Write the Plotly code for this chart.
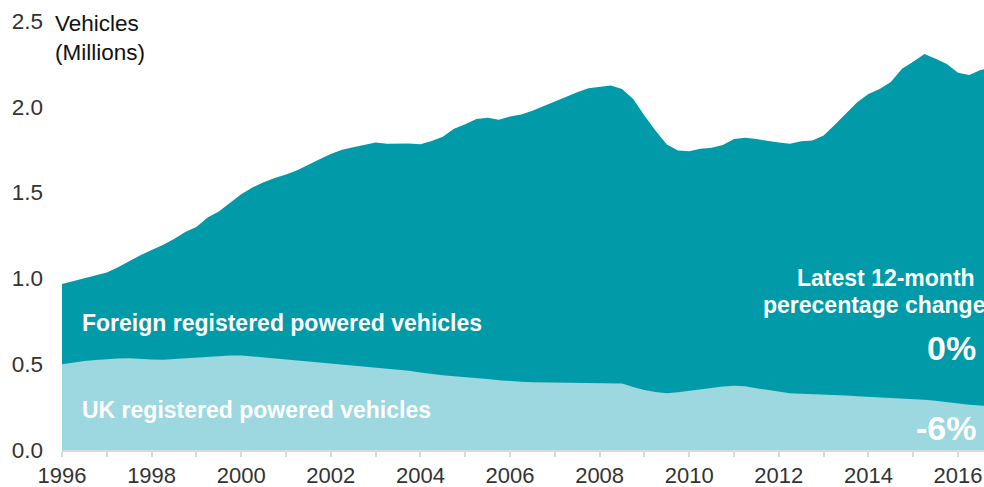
import plotly.graph_objects as go

# Quarterly time axis (decimal years)
years = [1996 + 0.25 * i for i in range(84)]  # 1996.00 .. 2016.75

# Total powered vehicles (millions) - top of the dark area
total = [
    0.967, 0.983, 0.999, 1.015, 1.035, 1.065, 1.100, 1.135,   # 1996-1997
    1.165, 1.195, 1.230, 1.270, 1.300, 1.355, 1.390, 1.440,   # 1998-1999
    1.490, 1.530, 1.560, 1.585, 1.605, 1.630, 1.665, 1.695,   # 2000-2001
    1.725, 1.750, 1.765, 1.780, 1.792, 1.785, 1.787, 1.786,   # 2002-2003
    1.782, 1.800, 1.826, 1.872, 1.898, 1.929, 1.936, 1.925,   # 2004-2005
    1.944, 1.955, 1.977, 2.005, 2.033, 2.060, 2.085, 2.108,   # 2006-2007
    2.115, 2.124, 2.104, 2.046, 1.950, 1.860, 1.780, 1.745,   # 2008-2009
    1.741, 1.756, 1.762, 1.777, 1.813, 1.820, 1.812, 1.801,   # 2010-2011
    1.792, 1.785, 1.799, 1.803, 1.833, 1.895, 1.962, 2.027,   # 2012-2013
    2.075, 2.104, 2.145, 2.222, 2.262, 2.307, 2.280, 2.249,   # 2014-2015
    2.198, 2.186, 2.215, 2.225,                               # 2016
]

# UK registered powered vehicles (millions)
uk = [
    0.500, 0.510, 0.518, 0.524, 0.529, 0.533, 0.534, 0.533,
    0.528, 0.526, 0.530, 0.536, 0.540, 0.546, 0.548, 0.550,
    0.551, 0.545, 0.540, 0.535, 0.527, 0.521, 0.515, 0.510,
    0.505, 0.500, 0.492, 0.485, 0.481, 0.476, 0.469, 0.462,
    0.452, 0.442, 0.435, 0.430, 0.426, 0.421, 0.414, 0.407,
    0.401, 0.397, 0.395, 0.394, 0.393, 0.392, 0.390, 0.389,
    0.388, 0.388, 0.388, 0.367, 0.350, 0.338, 0.331, 0.337,
    0.346, 0.355, 0.364, 0.370, 0.374, 0.372, 0.360, 0.349,
    0.338, 0.330, 0.328, 0.326, 0.324, 0.321, 0.317, 0.313,
    0.310, 0.307, 0.304, 0.301, 0.298, 0.293, 0.287, 0.278,
    0.268, 0.263, 0.259, 0.257,
]

x_ticks = [1996, 1998, 2000, 2002, 2004, 2006, 2008, 2010, 2012, 2014, 2016]
y_ticks = [0.0, 0.5, 1.0, 1.5, 2.0, 2.5]
y_tick_text = ["0.0", "0.5", "1.0", "1.5", "2.0", "2.5"]

DARK = "#009AA8"
LIGHT = "#9DD7DF"
TXT = "#333333"
FONT = "Arial, Liberation Sans, sans-serif"

W, H = 984, 487
ML, MR, MT, MB = 62, 0, 21, 37
PW, PH = W - ML - MR, H - MT - MB


def px(xp):
    return (xp - ML) / PW


def py(yp):
    return (H - MB - yp) / PH


fig = go.Figure()
fig.add_trace(go.Scatter(x=years, y=total, mode="lines", fill="tozeroy",
                         fillcolor=DARK, line=dict(width=0, color=DARK),
                         hoverinfo="skip", name="Foreign registered powered vehicles"))
fig.add_trace(go.Scatter(x=years, y=uk, mode="lines", fill="tozeroy",
                         fillcolor=LIGHT, line=dict(width=0, color=LIGHT),
                         hoverinfo="skip", name="UK registered powered vehicles"))

ann = []
ann.append(dict(text="Vehicles<br>(Millions)", x=px(54), y=py(10), xanchor="left", yanchor="top",
                align="left", font=dict(size=22.5, color="#111111", family=FONT)))
ann.append(dict(text="<b>Foreign registered powered vehicles</b>", x=px(81), y=py(323),
                xanchor="left", yanchor="middle", font=dict(size=23, color="white", family=FONT)))
ann.append(dict(text="<b>UK registered powered vehicles</b>", x=px(81), y=py(410),
                xanchor="left", yanchor="middle", font=dict(size=23, color="white", family=FONT)))
ann.append(dict(text="<b>Latest 12-month</b>", x=px(976), y=py(278),
                xanchor="right", yanchor="middle", font=dict(size=23, color="white", family=FONT)))
ann.append(dict(text="<b>perecentage change</b>", x=px(986), y=py(305),
                xanchor="right", yanchor="middle", font=dict(size=23, color="white", family=FONT)))
ann.append(dict(text="<b>0%</b>", x=px(977), y=py(348),
                xanchor="right", yanchor="middle", font=dict(size=34, color="white", family=FONT)))
ann.append(dict(text="<b>-6%</b>", x=px(977), y=py(428),
                xanchor="right", yanchor="middle", font=dict(size=34, color="white", family=FONT)))
for a in ann:
    a.update(xref="paper", yref="paper", showarrow=False, borderpad=0)

fig.update_layout(
    width=W, height=H,
    margin=dict(l=ML, r=MR, t=MT, b=MB, pad=0, autoexpand=False),
    paper_bgcolor="white", plot_bgcolor="white",
    showlegend=False,
    font=dict(family=FONT, color=TXT, size=22),
    annotations=ann,
    xaxis=dict(range=[1996, 2016.58], tickvals=x_ticks, ticktext=[str(v) for v in x_ticks],
               showgrid=False, zeroline=False, showline=True, linecolor="#D9D9D9", linewidth=1.5,
               ticks="outside", ticklen=5, tickcolor="#D9D9D9", tickwidth=1.5,
               ticklabelstandoff=0, automargin=False,
               minor=dict(dtick=1, tick0=1997, ticks="outside", ticklen=5, tickcolor="#D9D9D9",
                          tickwidth=1.5, showgrid=False),
               tickfont=dict(size=22, color=TXT), fixedrange=True),
    yaxis=dict(range=[0, 2.5], tickvals=y_ticks, ticktext=y_tick_text, showgrid=False,
               zeroline=False, showline=False, ticks="", ticklabelstandoff=18, automargin=False,
               tickfont=dict(size=22.5, color=TXT), fixedrange=True),
)

fig.write_html("out.html", config={"displayModeBar": False},
               post_script="document.body.style.margin='0';document.body.style.overflow='hidden';")
